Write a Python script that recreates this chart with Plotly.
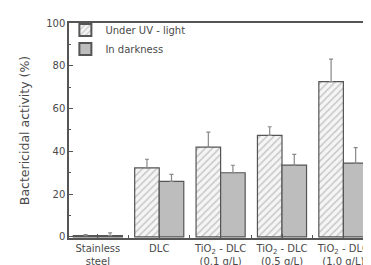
import plotly.graph_objects as go

categories = ["Stainless<br>steel", "DLC", "TiO<sub>2</sub> - DLC<br>(0.1 g/L)",
              "TiO<sub>2</sub> - DLC<br>(0.5 g/L)", "TiO<sub>2</sub> - DLC<br>(1.0 g/L)"]
uv_values = [0.6, 32.3, 42.0, 47.5, 72.6]
uv_errors = [0.5, 4.0, 7.0, 4.0, 10.5]
dark_values = [0.6, 26.0, 30.0, 33.6, 34.5]
dark_errors = [1.3, 3.2, 3.5, 5.0, 7.2]
y_ticks = [0, 20, 40, 60, 80, 100]

xpos = list(range(len(categories)))
txt = "#4a4a4a"
font = "DejaVu Sans, Noto Sans, sans-serif"

fig = go.Figure()
fig.add_trace(go.Bar(
    x=xpos, y=uv_values, name="Under UV - light",
    marker=dict(color="#f5f5f5", line=dict(color="#555555", width=1.2),
                pattern=dict(shape="/", fgcolor="#9a9a9a", bgcolor="#f5f5f5", size=5, solidity=0.3)),
    error_y=dict(type="data", symmetric=False, array=uv_errors, arrayminus=[0]*5,
                 color="#888888", thickness=1.2, width=2),
))
fig.add_trace(go.Bar(
    x=xpos, y=dark_values, name="In darkness",
    marker=dict(color="#bdbdbd", line=dict(color="#555555", width=1.2)),
    error_y=dict(type="data", symmetric=False, array=dark_errors, arrayminus=[0]*5,
                 color="#888888", thickness=1.2, width=2),
))

fig.update_layout(
    width=371, height=265,
    margin=dict(l=61, r=6, t=15, b=27),
    paper_bgcolor="white", plot_bgcolor="white",
    barmode="group", bargap=0.2, bargroupgap=0,
    font=dict(family=font, color=txt, size=10),
    showlegend=True,
    legend=dict(x=-0.012, y=1.035, xanchor="left", yanchor="top",
                bgcolor="rgba(0,0,0,0)", font=dict(size=10, color=txt),
                tracegroupgap=0, itemwidth=30, itemsizing="constant"),
)
fig.update_xaxes(
    range=[-0.47, 4.45], tickmode="array", tickvals=xpos, ticktext=categories,
    showline=True, linecolor="#555555", linewidth=1.5, mirror=True,
    ticks="inside", ticklen=4, tickcolor="#555555",
    minor=dict(tickmode="array", tickvals=[0.5, 1.5, 2.5, 3.5], ticks="inside", ticklen=3, tickcolor="#555555"),
    showgrid=False, tickfont=dict(size=10, color=txt), zeroline=False,
)
fig.update_yaxes(
    range=[-0.5, 100], tickmode="array", tickvals=y_ticks,
    showline=True, linecolor="#555555", linewidth=1.5, mirror="allticks",
    ticks="inside", ticklen=4, tickcolor="#555555",
    minor=dict(dtick=10, tick0=0, ticks="inside", ticklen=2, tickcolor="#555555"),
    showgrid=False, zeroline=False, tickfont=dict(size=10, color=txt),
    title=dict(text="Bactericidal activity (%)", font=dict(size=12.5, color=txt), standoff=14),
)

fig.write_html("out.html")
